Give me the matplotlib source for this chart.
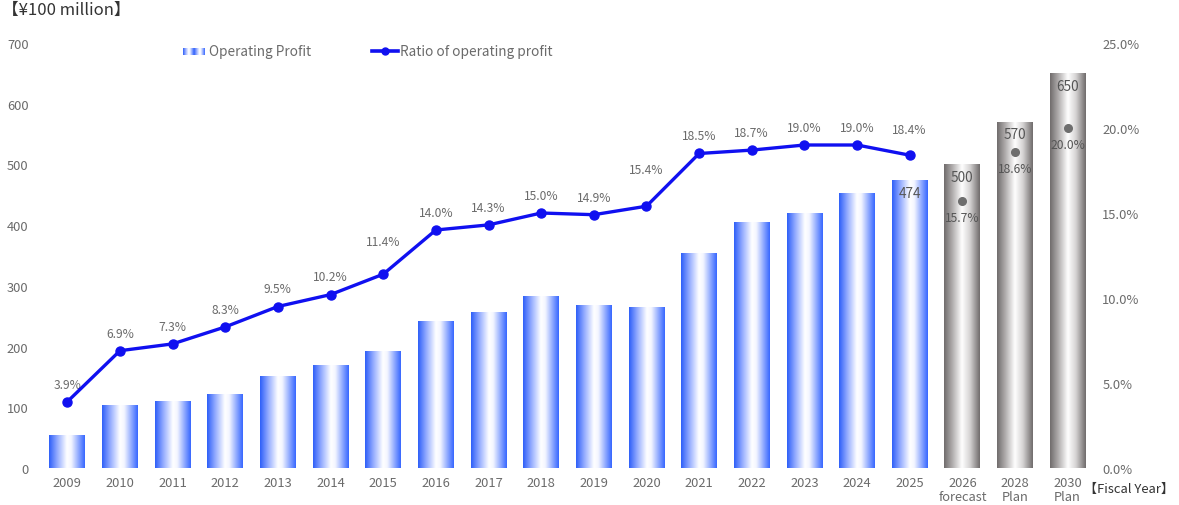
import numpy as np
import matplotlib.pyplot as plt
from matplotlib.colors import LinearSegmentedColormap
from matplotlib.lines import Line2D

plt.rcParams["font.family"] = ["Noto Sans CJK JP", "DejaVu Sans"]
GREY = "#6b6b6b"; DARK = "#333333"; LINE = "#1010f0"

# ---- data -------------------------------------------------------
years = ["2009", "2010", "2011", "2012", "2013", "2014", "2015", "2016", "2017",
         "2018", "2019", "2020", "2021", "2022", "2023", "2024", "2025",
         "2026\nforecast", "2028\nPlan", "2030\nPlan"]
profit = [54, 104, 110, 122, 152, 170, 193, 242, 257, 283, 268, 265,
          354, 405, 420, 453, 474, 500, 570, 650]
ratio = [3.9, 6.9, 7.3, 8.3, 9.5, 10.2, 11.4, 14.0, 14.3, 15.0, 14.9, 15.4,
         18.5, 18.7, 19.0, 19.0, 18.4]
plan_ratio = [15.7, 18.6, 20.0]
n_actual = len(ratio)
labelled_values = [474, 500, 570, 650]

# label offsets (points) that differ from the default
ratio_label_dy = {6: 19, 11: 22, 16: 14}

blue_cm = LinearSegmentedColormap.from_list(
    "b", [(0, "#2d5ef8"), (0.22, "#8fa8ff"), (0.5, "#ffffff"), (0.62, "#f4f6ff"), (1, "#3666ff")])
grey_cm = LinearSegmentedColormap.from_list(
    "g", [(0, "#6f6b6b"), (0.25, "#b5b2b2"), (0.5, "#ffffff"), (0.72, "#d6d4d4"), (1, "#6f6b6b")])
grad = np.linspace(0, 1, 256).reshape(1, -1)

fig = plt.figure(figsize=(11.79, 5.06), dpi=100)
ax = fig.add_axes([41/1179, 1-469/506, (1094-41)/1179, (469-44)/506])
x = np.arange(len(years))
bars = ax.bar(x, profit, width=0.68, color="none", edgecolor="none")
for i, b in enumerate(bars):
    cm = blue_cm if i < n_actual else grey_cm
    im = ax.imshow(grad, cmap=cm, aspect="auto", interpolation="bicubic",
                   extent=[b.get_x(), b.get_x()+b.get_width(), 0, b.get_height()], zorder=1)
    im.set_clip_path(b)
ax.set_xlim(-0.5, len(years)-0.5); ax.set_ylim(0, 700)
ax.set_yticks(range(0, 701, 100))
ax.set_xticks(x); ax.set_xticklabels(years, linespacing=1.1)
ax.tick_params(length=0, colors=GREY, labelsize=9.3, pad=6)
ax.tick_params(axis="y", pad=9)
for s in ax.spines.values(): s.set_visible(False)

for xi, v in zip(x[-len(labelled_values):], labelled_values):
    ax.annotate(str(v), (xi, v), xytext=(0, -4), textcoords="offset points",
                ha="center", va="top", fontsize=9.8, color="#555555", zorder=4)

ax2 = ax.twinx()
ax2.set_ylim(0, 25)
ax2.set_yticks(np.arange(0, 25.1, 5))
ax2.set_yticklabels([f"{t:.1f}%" for t in np.arange(0, 25.1, 5)])
ax2.tick_params(length=0, colors=GREY, labelsize=9.3, pad=6)
for s in ax2.spines.values(): s.set_visible(False)

ax2.plot(x[:n_actual], ratio, color=LINE, lw=2.4, marker="o", ms=6.5, zorder=5)
for i, (xi, r) in enumerate(zip(x[:n_actual], ratio)):
    ax2.annotate(f"{r:.1f}%", (xi, r), xytext=(0, ratio_label_dy.get(i, 8)),
                 textcoords="offset points", ha="center", va="bottom",
                 fontsize=8.7, color=GREY)
ax2.plot(x[n_actual:], plan_ratio, "o", color="#6e6e6e", ms=5.5, zorder=5)
for xi, r in zip(x[n_actual:], plan_ratio):
    ax2.annotate(f"{r:.1f}%", (xi, r), xytext=(0, -7), textcoords="offset points",
                 ha="center", va="top", fontsize=8.7, color="#555555")

# legend drawn by hand
lg = fig.add_axes([183/1179, 1-56/506, 22/1179, 7/506])
lg.imshow(np.tile(grad, (1, 2)), cmap=blue_cm, aspect="auto"); lg.axis("off")
fig.text(209/1179, 1-52/506, "Operating Profit", fontsize=9.8, color=GREY, va="center")
fig.add_artist(Line2D([372/1179, 398/1179], [1-52/506]*2, color=LINE, lw=2.6,
                      transform=fig.transFigure))
fig.add_artist(Line2D([385/1179], [1-52/506], color=LINE, marker="o", ms=5,
                      transform=fig.transFigure))
fig.text(400/1179, 1-52/506, "Ratio of operating profit", fontsize=9.8, color=GREY, va="center")

fig.text(2/1179, 1-10/506, "【¥100 million】", fontsize=12, color=DARK, va="center")
fig.text(1174/1179, 1-489/506, "【Fiscal Year】", fontsize=9.4, color=DARK,
         va="center", ha="right")

fig.savefig("out.png", dpi=100)
